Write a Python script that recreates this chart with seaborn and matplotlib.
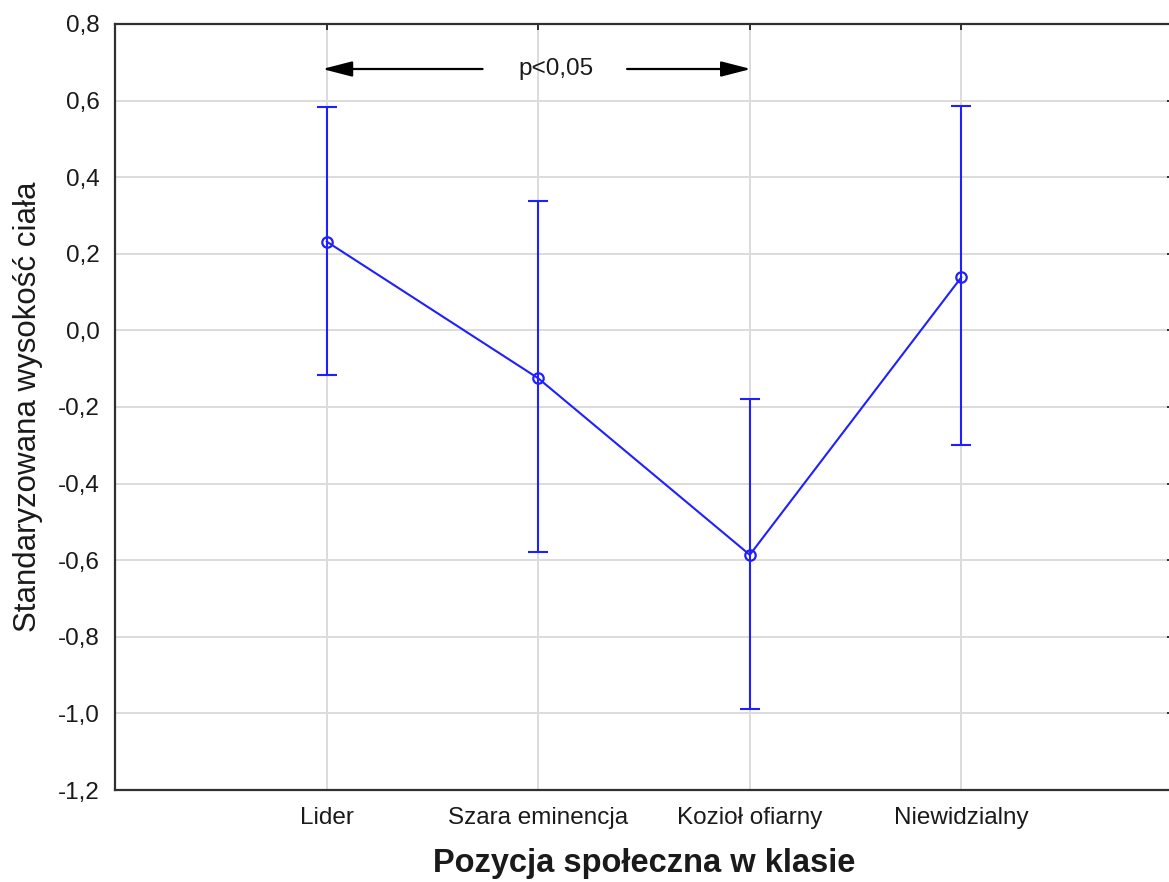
import matplotlib
matplotlib.use("Agg")
import matplotlib.pyplot as plt
import seaborn as sns
import pandas as pd
import numpy as np

# ---- data ----
categories = ["Lider", "Szara eminencja", "Kozioł ofiarny", "Niewidzialny"]
means = [0.232, -0.125, -0.586, 0.139]
upper = [0.582, 0.339, -0.178, 0.587]
lower = [-0.117, -0.578, -0.988, -0.299]
y_ticks = [-1.2, -1.0, -0.8, -0.6, -0.4, -0.2, 0.0, 0.2, 0.4, 0.6, 0.8]
y_tick_labels = ["-1,2", "-1,0", "-0,8", "-0,6", "-0,4", "-0,2", "0,0", "0,2", "0,4", "0,6", "0,8"]
annotation_text = "p<0,05"

df = pd.DataFrame({"pozycja": categories, "wartosc": means})

sns.set_theme(style="whitegrid")
plt.rcParams["font.family"] = ["Liberation Sans", "DejaVu Sans"]

BLUE = (0.12, 0.12, 1.0)
TXT = "#1a1a1a"

fig = plt.figure(figsize=(11.69, 8.82), dpi=100)
ax = fig.add_axes([115 / 1169, 1 - 790 / 882, (1173 - 115) / 1169, (790 - 24) / 882])
ax.set_facecolor("white")

yerr = np.array([[m - l for m, l in zip(means, lower)],
                 [u - m for m, u in zip(means, upper)]])
ax.errorbar(categories, means, yerr=yerr, fmt="none", ecolor=BLUE,
            elinewidth=1.5, capsize=7, capthick=1.5, zorder=3)

sns.lineplot(data=df, x="pozycja", y="wartosc", sort=False, color=BLUE,
             linewidth=1.5, marker="o", markersize=7.5, markerfacecolor="none",
             markeredgecolor=BLUE, markeredgewidth=1.6, ax=ax, zorder=4)

ax.set_xlim(-1, 4)
ax.set_ylim(-1.2, 0.8)
ax.set_yticks(y_ticks)
ax.set_yticklabels(y_tick_labels)

ax.grid(True, color="#dcdcdc", linewidth=1.4)
for s in ["left", "bottom", "top", "right"]:
    ax.spines[s].set_visible(True)
    ax.spines[s].set_color("#303030")
    ax.spines[s].set_linewidth(1.6)

ax.tick_params(axis="both", direction="in", length=4, width=1.4, color="#303030",
               top=True, right=True, labelsize=17.5, labelcolor=TXT)
ax.tick_params(axis="y", pad=11)
ax.tick_params(axis="x", pad=12)

ax.set_xlabel("Pozycja społeczna w klasie", fontsize=23.5, fontweight="bold",
              color=TXT, labelpad=14)
ax.set_ylabel("Standaryzowana wysokość ciała", fontsize=22.5, color=TXT, labelpad=11)

arrow_y = 0.6825
astyle = "-|>,head_length=0.7,head_width=0.18"
ax.annotate("", xy=(-0.02, arrow_y), xytext=(0.737, arrow_y),
            arrowprops=dict(arrowstyle=astyle, color="black", lw=1.6,
                            mutation_scale=26, shrinkA=0, shrinkB=0))
ax.annotate("", xy=(2.005, arrow_y), xytext=(1.42, arrow_y),
            arrowprops=dict(arrowstyle=astyle, color="black", lw=1.6,
                            mutation_scale=26, shrinkA=0, shrinkB=0))
ax.text(1.082, arrow_y, annotation_text, ha="center", va="center",
        fontsize=17.5, color=TXT)

fig.savefig("out.png", dpi=100)
